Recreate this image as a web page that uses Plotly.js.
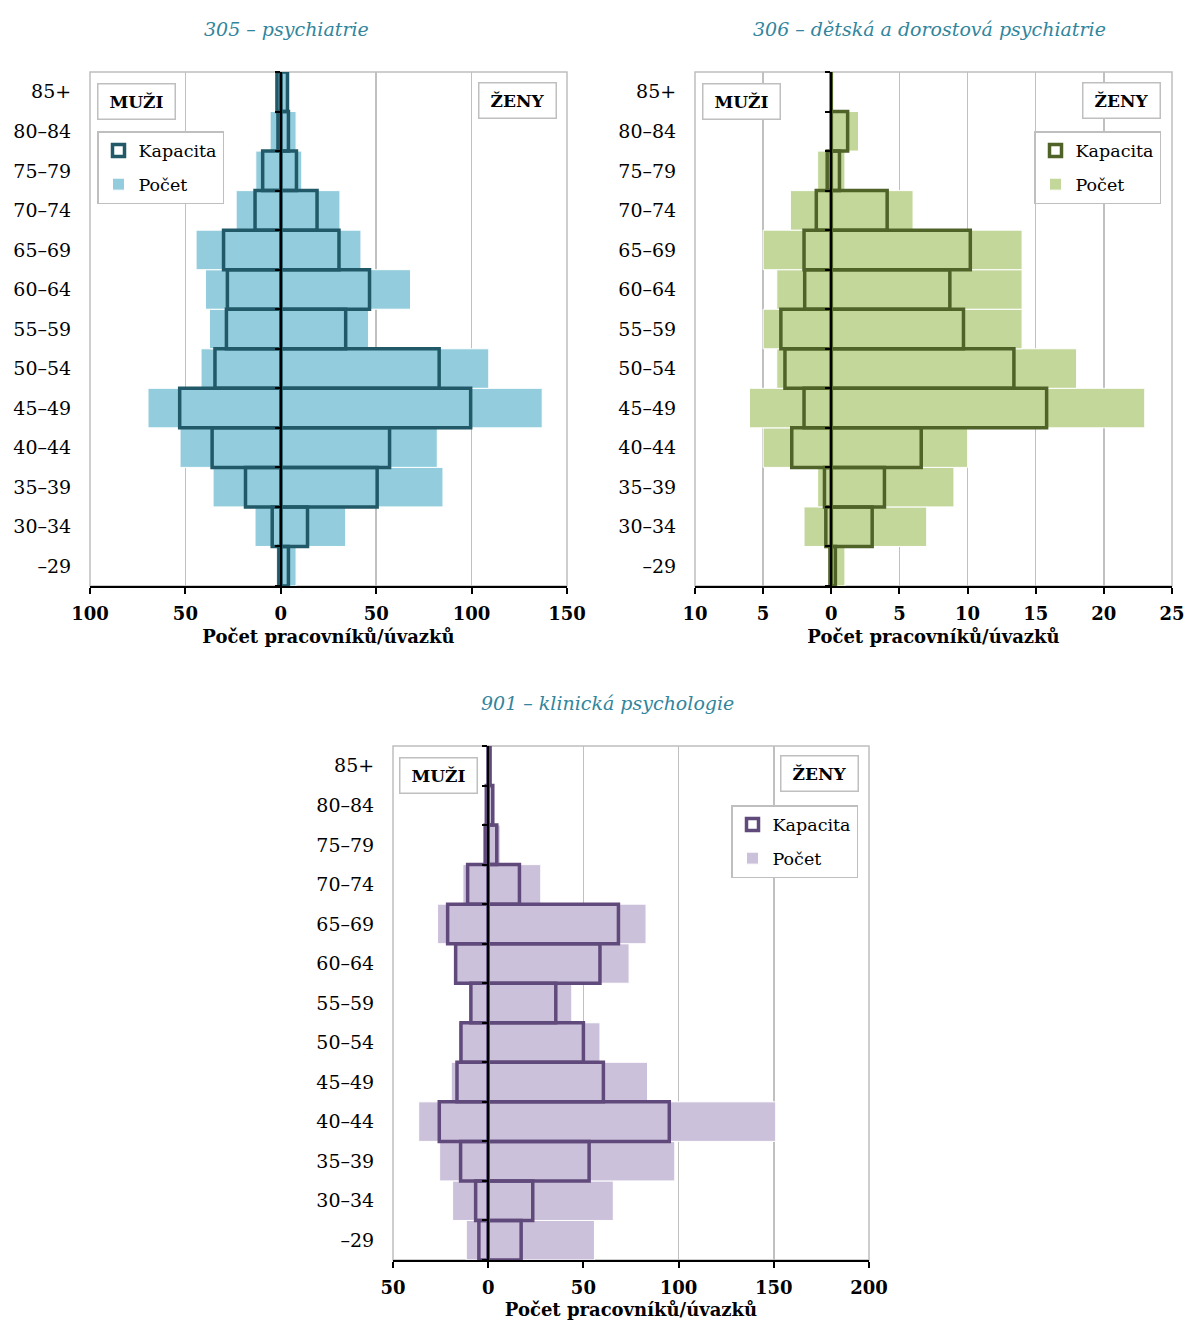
<!DOCTYPE html>
<html>
<head>
<meta charset="utf-8">
<script src="https://cdn.plot.ly/plotly-3.0.1.min.js"></script>
<style>
html,body{margin:0;padding:0;background:#fff;}
#chart{width:1185px;height:1320px;}
</style>
</head>
<body>
<div id="chart"></div>
<script>
// ---------- DATA (ordered from youngest to oldest) ----------
const categories = ['–29','30–34','35–39','40–44','45–49','50–54','55–59','60–64','65–69','70–74','75–79','80–84','85+'];

// 305 – psychiatrie
const pocetMen305   = [2.4, 13.5, 35.5, 52.8, 69.6, 41.8, 37.4, 39.5, 44.4, 23.4, 13.1, 5.6, 3];
const pocetWomen305 = [8, 34, 85, 82, 137, 109, 46, 68, 42, 31, 11, 8, 4];
const kapMen305     = [1, 4.5, 18.5, 36, 53, 34.5, 28.5, 28, 30, 13.5, 9.5, 1.5, 2];
const kapWomen305   = [4, 14, 50.5, 57, 99.5, 83, 34, 46.5, 30.5, 19, 8.2, 4, 3.5];

// 306 – dětská a dorostová psychiatrie
const pocetMen306   = [0, 2, 1, 5, 6, 4, 5, 4, 5, 3, 1, 0, 0];
const pocetWomen306 = [1, 7, 9, 10, 23, 18, 14, 14, 14, 6, 1, 2, 0];
const kapMen306     = [0.1, 0.4, 0.5, 2.9, 2.0, 3.4, 3.7, 1.95, 2.0, 1.1, 0.3, 0, 0];
const kapWomen306   = [0.3, 3.0, 3.9, 6.6, 15.8, 13.4, 9.7, 8.7, 10.2, 4.1, 0.6, 1.2, 0];

// 901 – klinická psychologie
const pocetMen901   = [11.5, 18.7, 25.5, 36.5, 19.4, 15.6, 10, 17.3, 26.6, 13.3, 2.4, 0, 0];
const pocetWomen901 = [55.8, 65.7, 98, 151, 83.7, 58.7, 43.9, 74, 82.9, 27.6, 6.3, 3.1, 1];
const kapMen901     = [4.9, 6.6, 14.5, 25.7, 16.4, 14.3, 9.1, 17.1, 21.3, 10.8, 1.6, 1, 0];
const kapWomen901   = [17.3, 23.4, 53, 95.1, 60.5, 50, 35.5, 58.7, 68.4, 16.4, 4.5, 2.4, 1];

// tick labels
const tickVals305 = [-100, -50, 0, 50, 100, 150];
const tickText305 = ['100', '50', '0', '50', '100', '150'];
const tickVals306 = [-10, -5, 0, 5, 10, 15, 20, 25];
const tickText306 = ['10', '5', '0', '5', '10', '15', '20', '25'];
const tickVals901 = [-50, 0, 50, 100, 150, 200];
const tickText901 = ['50', '0', '50', '100', '150', '200'];

const titles = ['305 – psychiatrie', '306 – dětská a dorostová psychiatrie', '901 – klinická psychologie'];
const seriesNames = ['Kapacita', 'Počet'];
const sideLabels = ['MUŽI', 'ŽENY'];
const axisTitle = 'Počet pracovníků/úvazků';

// ---------- LAYOUT HELPERS ----------
const W = 1185, H = 1320;
const px = x => x / W;
const py = y => 1 - y / H;
const FONT = 'DejaVu Serif';

const charts = [
  { id: '', leg: 'legend', ov: 'y4', range: [-100, 150], tv: tickVals305, tt: tickText305,
    pm: pocetMen305, pw: pocetWomen305, km: kapMen305, kw: kapWomen305,
    light: '#93CDDD', dark: '#215968',
    box: [90, 567, 72, 586], title: [286, 29],
    muzi: [136, 101], zeny: [517, 100], legendPos: [97, 131, 'left'] },
  { id: '2', leg: 'legend2', ov: 'y5', range: [-10, 25], tv: tickVals306, tt: tickText306,
    pm: pocetMen306, pw: pocetWomen306, km: kapMen306, kw: kapWomen306,
    light: '#C4D79B', dark: '#4F6228',
    box: [695, 1172, 72, 586], title: [929, 29],
    muzi: [741, 101], zeny: [1121, 100], legendPos: [1161, 131, 'right'] },
  { id: '3', leg: 'legend3', ov: 'y6', range: [-50, 200], tv: tickVals901, tt: tickText901,
    pm: pocetMen901, pw: pocetWomen901, km: kapMen901, kw: kapWomen901,
    light: '#CCC1DA', dark: '#604A7B',
    box: [393, 869, 746, 1260], title: [607, 703],
    muzi: [438, 775], zeny: [819, 774], legendPos: [858, 805, 'right'] }
];

const data = [];
const layout = {
  width: W, height: H,
  margin: { l: 0, r: 0, t: 0, b: 0 },
  paper_bgcolor: '#fff', plot_bgcolor: 'rgba(0,0,0,0)',
  barmode: 'overlay', bargap: 0,
  showlegend: true,
  font: { family: FONT, color: '#000' },
  annotations: [], shapes: []
};

const boundaries = categories.map((c, i) => i - 0.5).concat([categories.length - 0.5]);

charts.forEach((c, k) => {
  const xa = 'x' + c.id, ya = 'y' + c.id;
  const xdom = [px(c.box[0]), px(c.box[1])];
  const ydom = [py(c.box[3]), py(c.box[2])];
  const yy = categories.concat(categories);

  data.push({
    type: 'bar', orientation: 'h', name: seriesNames[1],
    y: yy, x: c.pm.map(v => -v).concat(c.pw),
    xaxis: xa, yaxis: ya, legend: c.leg, legendgroup: 'p' + k, legendrank: 2,
    marker: { color: c.light, line: { color: '#fff', width: 1 } },
    hoverinfo: 'skip'
  });
  data.push({
    type: 'bar', orientation: 'h', name: seriesNames[0],
    y: yy, x: c.km.map(v => -v).concat(c.kw),
    xaxis: xa, yaxis: ya, legend: c.leg, legendgroup: 'k' + k, legendrank: 1,
    marker: { color: 'rgba(0,0,0,0)', line: { color: c.dark, width: 3.5 } },
    hoverinfo: 'skip'
  });
  // empty helper trace so the zero-axis overlay exists
  data.push({ type: 'scatter', mode: 'markers', x: [], y: [], xaxis: xa, yaxis: c.ov,
              showlegend: false, hoverinfo: 'skip' });

  layout['xaxis' + c.id] = {
    domain: xdom, anchor: ya, range: c.range,
    tickmode: 'array', tickvals: c.tv, ticktext: c.tt,
    showline: true, linecolor: '#000', linewidth: 2,
    ticks: 'outside', ticklen: 6, tickwidth: 2, tickcolor: '#000',
    ticklabelstandoff: 4,
    tickfont: { family: FONT, size: 18, weight: 'bold', color: '#000' },
    showgrid: true, gridcolor: '#C0C0C0', gridwidth: 1.5, zeroline: false,
    title: { text: axisTitle, font: { family: FONT, size: 18, weight: 'bold', color: '#000' }, standoff: 8 },
    fixedrange: true
  };
  layout['yaxis' + c.id] = {
    domain: ydom, anchor: xa, type: 'category',
    categoryorder: 'array', categoryarray: categories,
    range: [-0.5, categories.length - 0.5],
    showline: false, showgrid: false, zeroline: false,
    ticks: 'outside', ticklen: 14, tickcolor: 'rgba(0,0,0,0)',
    tickfont: { family: FONT, size: 19, color: '#000' },
    fixedrange: true
  };
  const zeroPos = xdom[0] + (0 - c.range[0]) / (c.range[1] - c.range[0]) * (xdom[1] - xdom[0]);
  layout['yaxis' + c.ov.slice(1)] = {
    overlaying: ya, anchor: 'free', position: zeroPos, side: 'left',
    range: [-0.5, categories.length - 0.5],
    tickmode: 'array', tickvals: boundaries, showticklabels: false,
    showline: true, linecolor: '#000', linewidth: 2,
    ticks: 'outside', ticklen: 5, tickwidth: 2, tickcolor: '#000',
    showgrid: false, zeroline: false, fixedrange: true
  };

  layout[c.leg] = {
    xref: 'paper', yref: 'paper',
    x: px(c.legendPos[0]), y: py(c.legendPos[1]),
    xanchor: c.legendPos[2], yanchor: 'top',
    bgcolor: '#fff', bordercolor: '#BFBFBF', borderwidth: 1.5,
    font: { family: FONT, size: 17.5, color: '#000' },
    traceorder: 'grouped', tracegroupgap: 8, itemwidth: 30
  };

  layout.shapes.push({
    type: 'rect', xref: xa + ' domain', yref: ya + ' domain',
    x0: 0, x1: 1, y0: 0, y1: 1, layer: 'below',
    line: { color: '#BFBFBF', width: 1.5 }
  });

  layout.annotations.push({
    xref: 'paper', yref: 'paper', x: px(c.title[0]), y: py(c.title[1]),
    xanchor: 'center', yanchor: 'middle', showarrow: false, text: titles[k],
    font: { family: FONT, size: 19, style: 'italic', color: '#31859C' }
  });
  [[c.muzi, sideLabels[0]], [c.zeny, sideLabels[1]]].forEach(([p, t]) => {
    layout.annotations.push({
      xref: 'paper', yref: 'paper', x: px(p[0]), y: py(p[1]),
      xanchor: 'center', yanchor: 'middle', showarrow: false, text: t,
      width: 70, height: 28, borderpad: 3,
      bgcolor: '#fff', bordercolor: '#BFBFBF', borderwidth: 1.5,
      font: { family: FONT, size: 17, weight: 'bold', color: '#000' }
    });
  });
});

Plotly.newPlot('chart', data, layout, { staticPlot: true, displayModeBar: false });
</script>
</body>
</html>
